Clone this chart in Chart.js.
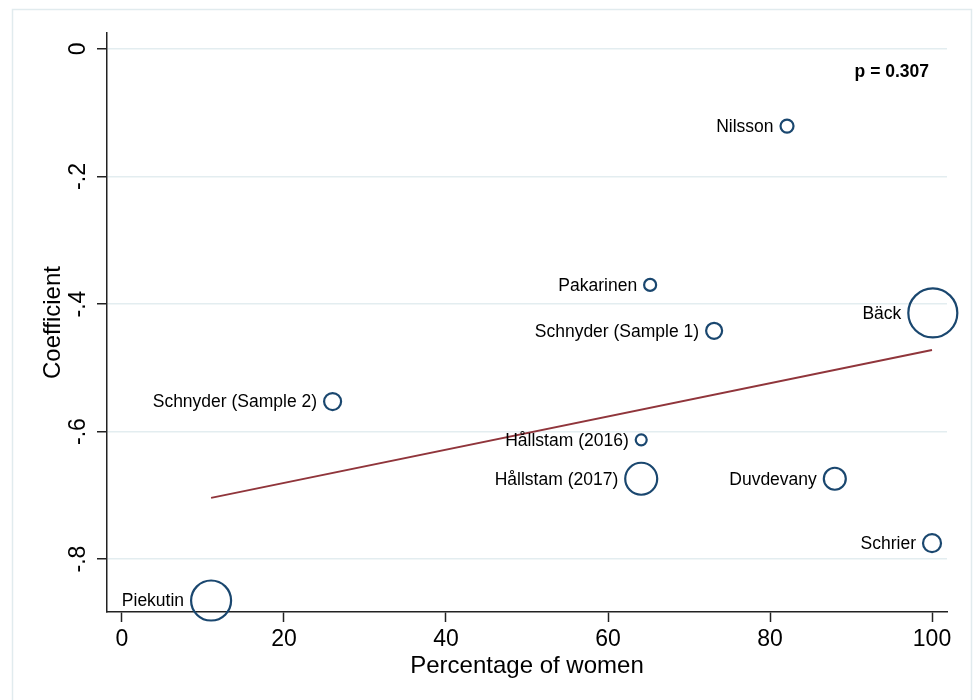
<!DOCTYPE html>
<html>
<head>
<meta charset="utf-8">
<script src="https://cdn.jsdelivr.net/npm/chart.js@4.4.1/dist/chart.umd.min.js"></script>
<style>
  html, body { margin: 0; padding: 0; background: #fff; }
  #wrap { width: 974px; height: 700px; position: relative; }
</style>
</head>
<body>
<div id="wrap"><canvas id="metaChart" width="974" height="700"></canvas></div>
<script>
const studies = ['Nilsson','Pakarinen','Schnyder (Sample 1)','Bäck','Schnyder (Sample 2)',
  'Hållstam (2016)','Hållstam (2017)','Duvdevany','Schrier','Piekutin'];
const pctWomen = [82.1, 65.2, 73.1, 100.1, 26.0, 64.1, 64.1, 88.0, 100.0, 11.0];
const coef = [-0.121, -0.370, -0.442, -0.414, -0.553, -0.613, -0.674, -0.674, -0.775, -0.865];
const weights = [6.5, 6, 8, 24.5, 8.5, 5.5, 16, 11, 9, 20];
const fitX = [11, 100];
const fitY = [-0.704, -0.472];
const xTicks = [0, 20, 40, 60, 80, 100];
const yTicks = [0, -0.2, -0.4, -0.6, -0.8];
const yTickLabels = ['0', '-.2', '-.4', '-.6', '-.8'];
const pText = 'p = 0.307';

const FONT = '"Liberation Sans", Arial, Helvetica, sans-serif';
const navy = '#1a476f';
const maroon = '#90353b';

const stataBits = {
  id: 'stataBits',
  beforeDraw(chart) {
    const c = chart.ctx;
    c.save();
    c.strokeStyle = '#e1ebee';
    c.lineWidth = 1.5;
    c.strokeRect(12.5, 9.5, 959, 700);
    c.restore();
  },
  afterDraw(chart) {
    const c = chart.ctx;
    const ys = chart.scales.y;
    const area = chart.chartArea;
    c.save();
    // rotated y tick labels
    c.fillStyle = '#000';
    c.font = '23px ' + FONT;
    c.textAlign = 'center';
    c.textBaseline = 'middle';
    yTicks.forEach((v, i) => {
      const py = ys.getPixelForValue(v);
      c.save();
      c.translate(79, py);
      c.rotate(-Math.PI / 2);
      c.fillText(yTickLabels[i], 0, 0);
      c.restore();
    });
    // study labels left of markers
    const meta = chart.getDatasetMeta(1);
    c.font = '17.5px ' + FONT;
    c.textAlign = 'right';
    meta.data.forEach((pt, i) => {
      c.fillText(studies[i], pt.x - weights[i] - 7, pt.y + 1);
    });
    // p value
    c.font = 'bold 17.5px ' + FONT;
    c.fillText(pText, area.right - 18, area.top + 39);
    c.restore();
  }
};

new Chart(document.getElementById('metaChart'), {
  type: 'bubble',
  data: {
    datasets: [{
      type: 'line',
      data: fitX.map((x, i) => ({x, y: fitY[i]})),
      borderColor: maroon,
      borderWidth: 2,
      pointRadius: 0,
      fill: false
    }, {
      type: 'bubble',
      data: pctWomen.map((x, i) => ({x, y: coef[i], r: weights[i]})),
      backgroundColor: 'rgba(0,0,0,0)',
      borderColor: navy,
      borderWidth: 2.2,
      clip: false
    }]
  },
  options: {
    responsive: false,
    animation: false,
    events: [],
    layout: { padding: { top: 33, right: 27, left: 0, bottom: 0 } },
    plugins: { legend: { display: false }, tooltip: { enabled: false } },
    scales: {
      x: {
        type: 'linear',
        min: -1.85, max: 101.85,
        afterBuildTicks: s => { s.ticks = xTicks.map(v => ({value: v})); },
        afterFit: s => { s.height = 88; },
        grid: { drawOnChartArea: false, drawTicks: true, tickLength: 10, tickColor: '#222', tickWidth: 1.5 },
        border: { color: '#222', width: 1.5 },
        ticks: { color: '#000', font: { family: FONT, size: 23 }, padding: 4, maxRotation: 0 },
        title: { display: true, text: 'Percentage of women', color: '#000',
          font: { family: FONT, size: 24 }, padding: { top: 0, bottom: 19 } }
      },
      y: {
        type: 'linear',
        min: -0.883, max: 0.025,
        afterBuildTicks: s => { s.ticks = yTicks.map(v => ({value: v})); },
        afterFit: s => { s.width = 107; },
        grid: { color: '#e3edf0', lineWidth: 1.5, drawTicks: true, tickLength: 10, tickColor: '#222', tickWidth: 1.5 },
        border: { color: '#222', width: 1.5 },
        ticks: { display: false },
        title: { display: true, text: 'Coefficient', color: '#000',
          font: { family: FONT, size: 24 }, padding: { top: 39, bottom: 0 } }
      }
    }
  },
  plugins: [stataBits]
});
</script>
</body>
</html>
